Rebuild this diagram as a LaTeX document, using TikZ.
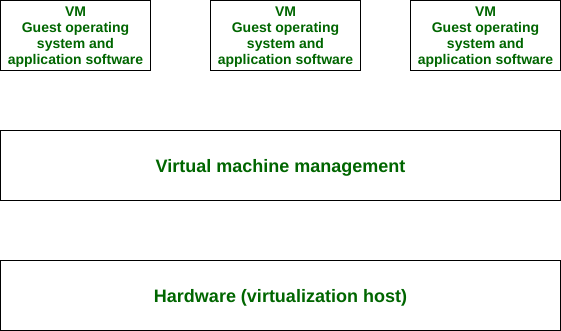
\documentclass[tikz,border=0pt]{standalone}
\usepackage{fontspec}
\setmainfont{Liberation Sans}
\definecolor{VMGreen}{RGB}{0,102,0}
\tikzset{
  vmbox/.style={draw=black,fill=white,minimum width=150pt,minimum height=70pt,inner sep=0pt,
    align=center,font=\fontsize{14}{16}\selectfont\bfseries,text=VMGreen},
  layerbox/.style={draw=black,fill=white,minimum width=560pt,minimum height=70pt,inner sep=0pt,
    font=\fontsize{18}{20}\selectfont\bfseries,text=VMGreen},
  lbl/.style={inner sep=0pt,text=VMGreen}
}
\begin{document}
\begin{tikzpicture}[x=1pt,y=-1pt]
      \useasboundingbox (0,0) rectangle (561,331);
      \foreach \name/\cx in {vm1/75.5,vm2/285.5,vm3/485.5} {
        \node[vmbox] (\name) at (\cx,35.5) {};
        \node[lbl,align=center,font=\fontsize{14}{16}\selectfont\bfseries] (\name-text) at ([yshift=-2pt]\name.center) {VM\\Guest operating\\system and\\application software};
      }
      \node[layerbox] (vmm) at (280.5,165.5) {};
      \node[lbl,font=\fontsize{18}{20}\selectfont\bfseries] (vmm-text) at ([yshift=-2.5pt]vmm.center) {Virtual machine management};
      \node[layerbox] (hw) at (280.5,295.5) {};
      \node[lbl,font=\fontsize{18}{20}\selectfont\bfseries] (hw-text) at ([yshift=-2.5pt]hw.center) {Hardware (virtualization host)};
    \end{tikzpicture}
\end{document}
